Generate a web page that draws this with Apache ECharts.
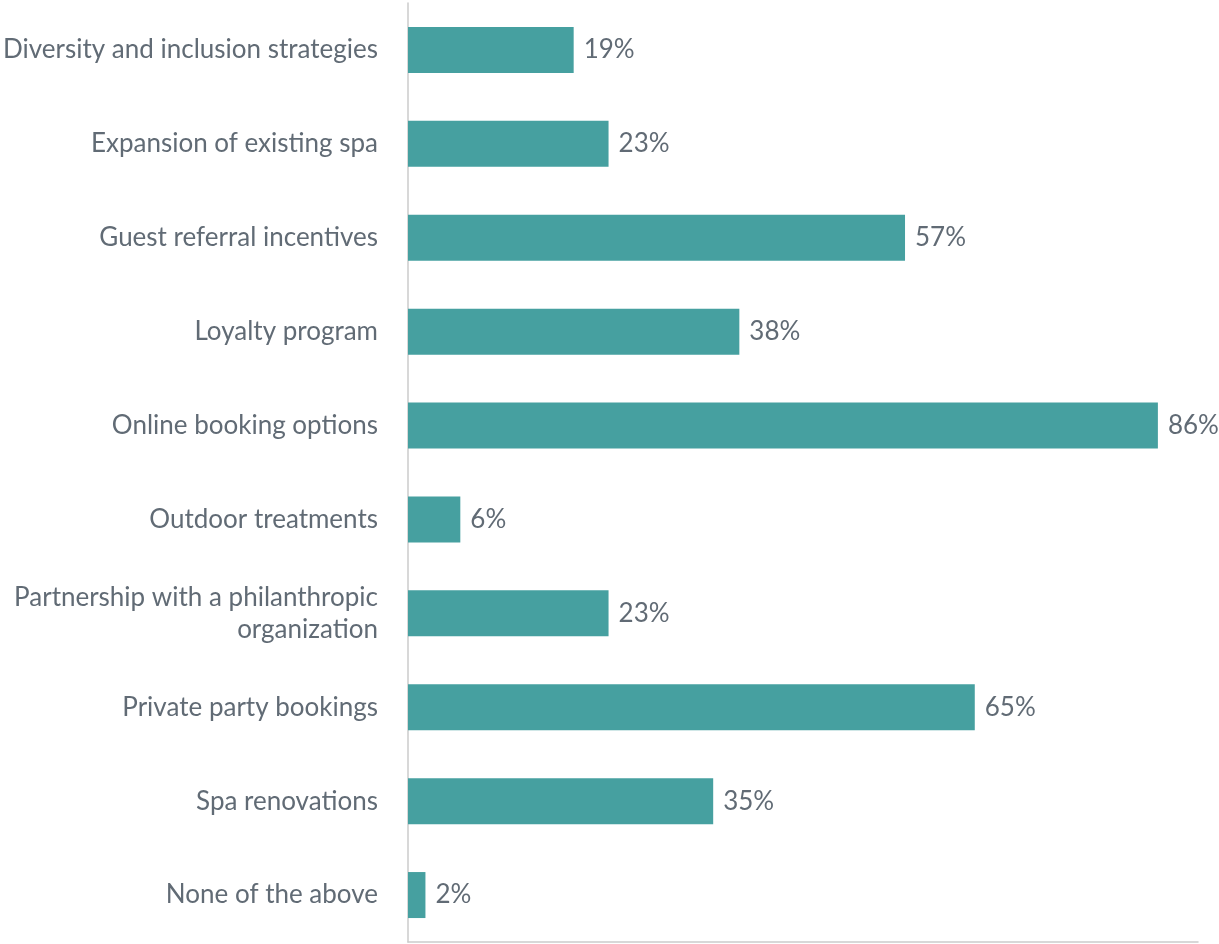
<!DOCTYPE html>
<html>
<head>
<meta charset="utf-8">
<style>
  html, body { margin: 0; padding: 0; background: #ffffff; }
  #chart { width: 1219px; height: 944px; }
</style>
<script src="https://cdn.jsdelivr.net/npm/echarts@6/dist/echarts.min.js"></script>
</head>
<body>
<div id="chart"></div>
<script>
// Survey answers, top to bottom
const categories = [
  'Diversity and inclusion strategies',
  'Expansion of existing spa',
  'Guest referral incentives',
  'Loyalty program',
  'Online booking options',
  'Outdoor treatments',
  'Partnership with a philanthropic\norganization',
  'Private party bookings',
  'Spa renovations',
  'None of the above'
];
// Share of respondents, in percent
const shares = [19, 23, 57, 38, 86, 6, 23, 65, 35, 2];

const textColor = '#616b75';
const barColor = '#46a0a0';
const axisColor = '#cbcbcb';
const fontFamily = 'Lato, "Open Sans", sans-serif';

const chart = echarts.init(document.getElementById('chart'));
chart.setOption({
  animation: false,
  textStyle: { fontFamily: fontFamily },
  grid: { left: 408, right: 21, top: 3, bottom: 2, containLabel: false },
  xAxis: {
    type: 'value',
    min: 0,
    max: 90.6,
    axisLine: { show: true, lineStyle: { color: axisColor, width: 1.5 } },
    axisTick: { show: false },
    axisLabel: { show: false },
    splitLine: { show: false }
  },
  yAxis: {
    type: 'category',
    data: categories,
    inverse: true,
    axisLine: { show: true, lineStyle: { color: axisColor, width: 1.5 } },
    axisTick: { show: false },
    axisLabel: {
      color: textColor,
      fontSize: 26,
      lineHeight: 32,
      margin: 30,
      padding: [5, 0, 0, 0],
      align: 'right',
      fontFamily: fontFamily
    }
  },
  series: [{
    type: 'bar',
    data: shares,
    barWidth: 46,
    itemStyle: { color: barColor },
    label: {
      show: true,
      position: 'right',
      distance: 10,
      color: textColor,
      fontSize: 26,
      padding: [3, 0, 0, 0],
      fontFamily: fontFamily,
      formatter: p => p.value + '%'
    }
  }]
});
</script>
</body>
</html>
